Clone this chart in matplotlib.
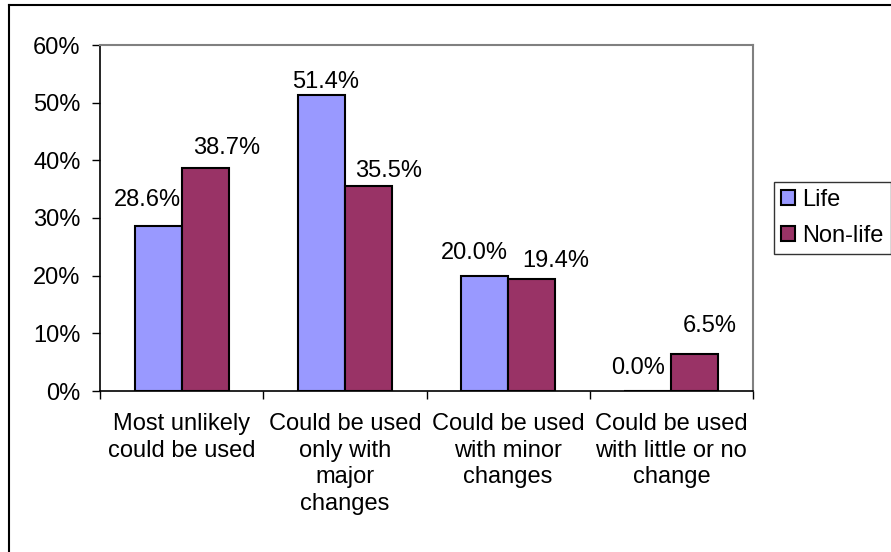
import matplotlib
matplotlib.use("Agg")
import matplotlib.pyplot as plt
from matplotlib.lines import Line2D
import numpy as np

plt.rcParams['font.family'] = ['Liberation Sans', 'DejaVu Sans']

categories = ["Most unlikely\ncould be used", "Could be used\nonly with\nmajor\nchanges",
              "Could be used\nwith minor\nchanges", "Could be used\nwith little or no\nchange"]
life = [28.6, 51.4, 20.0, 0.0]
nonlife = [38.7, 35.5, 19.4, 6.5]
series_names = ["Life", "Non-life"]
yticks = [0, 10, 20, 30, 40, 50, 60]

# label nudges (pixels) to mimic the original label placement
life_nudge = [(-11, 26), (4, 13), (-10, 23), (-10, 23)]
nonlife_nudge = [(22, 20), (20, 15), (24, 18), (15, 28)]

FS = 17
W, H = 891, 552
fig = plt.figure(figsize=(W / 100, H / 100), dpi=100)
ax = fig.add_axes([100 / W, 1 - 391 / H, 653 / W, 346 / H])

x = np.arange(len(categories))
bw = 0.288
b1 = ax.bar(x - bw / 2, life, bw, color="#9999FF", edgecolor="black", linewidth=1.5, label=series_names[0], zorder=3)
b2 = ax.bar(x + bw / 2, nonlife, bw, color="#993366", edgecolor="black", linewidth=1.5, label=series_names[1], zorder=3)

for bars, vals, nudges in ((b1, life, life_nudge), (b2, nonlife, nonlife_nudge)):
    for r, v, (dx, dy) in zip(bars, vals, nudges):
        ax.annotate(f"{v:.1f}%", (r.get_x() + r.get_width() / 2, v), xytext=(dx, dy),
                    textcoords="offset pixels", ha="center", va="center", fontsize=FS)

ax.set_xlim(-0.5, len(categories) - 0.5)
ax.set_ylim(0, 60)
ax.set_yticks(yticks)
ax.set_yticklabels([f"{t}%" for t in yticks], fontsize=FS)
ax.tick_params(axis="y", direction="out", length=5.5, width=1, pad=8.5)

ax.set_xticks(x)
ax.set_xticklabels(categories, fontsize=FS, linespacing=1.27)
ax.set_xticks(np.arange(len(categories) + 1) - 0.5, minor=True)
ax.tick_params(axis="x", which="major", length=0, pad=16)
ax.tick_params(axis="x", which="minor", direction="out", length=5.5, width=1)

for s in ("top", "right"):
    ax.spines[s].set_color("#808080")
    ax.spines[s].set_linewidth(1.5)
for s in ("left", "bottom"):
    ax.spines[s].set_color("black")
    ax.spines[s].set_linewidth(1.2)

leg = fig.legend(handles=[b1, b2], loc="upper left", bbox_to_anchor=(774 / W, 1 - 182 / H),
                 fontsize=FS, frameon=True, fancybox=False, handlelength=0.6, handleheight=0.6,
                 handletextpad=0.3, borderpad=0.3, labelspacing=0.6, borderaxespad=0)
leg.get_frame().set_edgecolor("black")
leg.get_frame().set_linewidth(1)

fig.add_artist(Line2D([9 / W, 1.0], [1 - 5 / H, 1 - 5 / H], transform=fig.transFigure, color="black", linewidth=1.5))
fig.add_artist(Line2D([9 / W, 9 / W], [0, 1 - 5 / H], transform=fig.transFigure, color="black", linewidth=1.5))

fig.savefig("out.png", dpi=100)
